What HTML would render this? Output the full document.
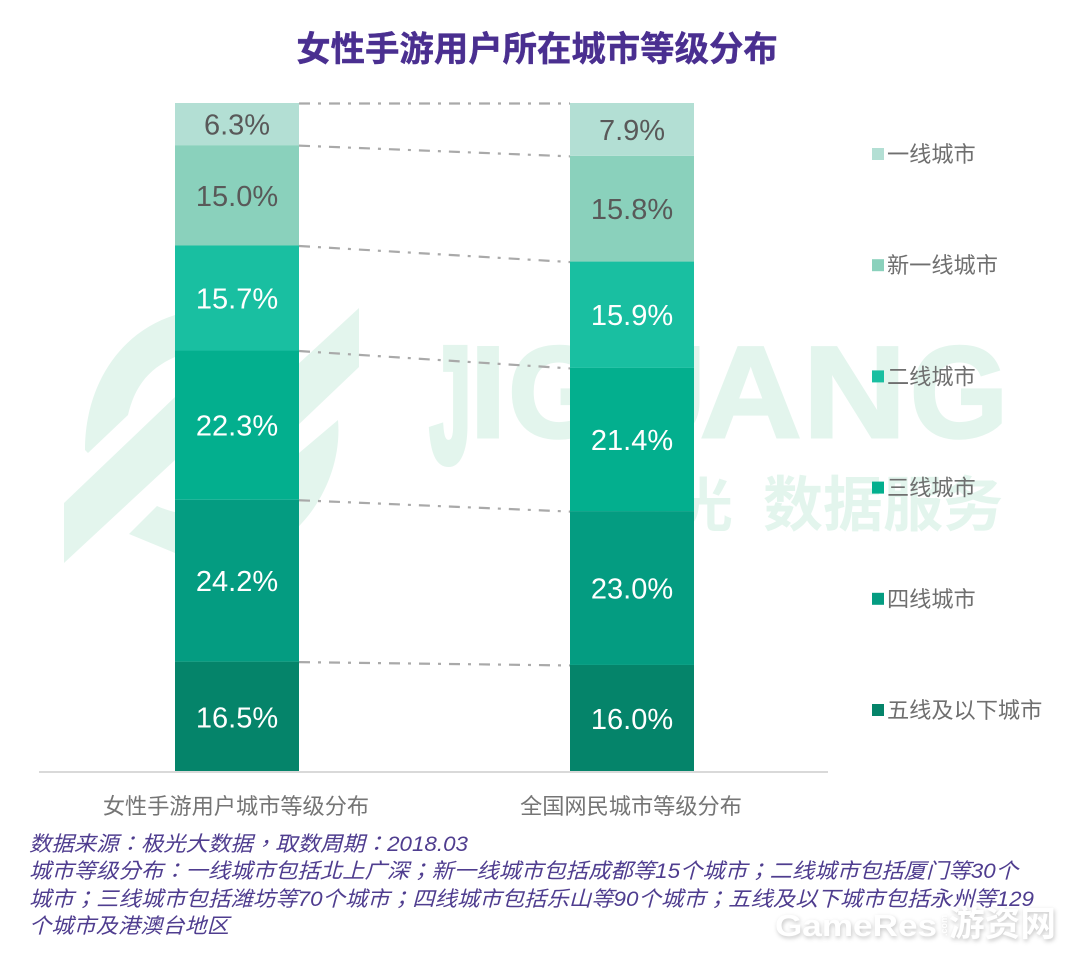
<!DOCTYPE html>
<html lang="zh">
<head>
<meta charset="utf-8">
<title>女性手游用户所在城市等级分布</title>
<style>
html,body{margin:0;padding:0;background:#fff;}
body{width:1080px;height:958px;overflow:hidden;}
svg{display:block;}
text{font-family:"Liberation Sans","Noto Sans CJK SC",sans-serif;}
.footnote-text{font-family:"Liberation Sans","Noto Sans CJK TC",sans-serif;}
</style>
</head>
<body>
<svg id="chart" xmlns="http://www.w3.org/2000/svg" width="1080" height="958" viewBox="0 0 1080 958">
  <rect x="0" y="0" width="1080" height="958" fill="#ffffff"/>
  <g fill="#e3f5ed">
    <path d="M175 315 C120 332 85 385 85 450 L88 453 L128 415 C135 385 150 368 175 357 Z"/>
    <polygon points="64,503 175,397 175,460 64,563"/>
    <polygon points="295,367 359,308 359,367 295,428"/>
    <path d="M338 420 C345 500 270 590 175 553 L129 534 L157 506 C210 530 270 500 299 453 Z"/>
    <g font-weight="700" font-size="130" stroke="#e3f5ed" stroke-width="3" stroke-linejoin="miter">
      <text x="0" y="0" stroke-width="7" transform="translate(430 461) scale(0.56 1.25)">J</text>
      <text x="0" y="0" transform="translate(470 437)">I</text>
      <text x="0" y="0" transform="translate(508 437)">G</text>
      <text x="0" y="0" transform="translate(612 437)">U</text>
      <text x="0" y="0" transform="translate(700 437) scale(1.08 1)">A</text>
      <text x="0" y="0" transform="translate(803 437) scale(1.1 1)">N</text>
      <text x="0" y="0" transform="translate(910 437) scale(0.97 1)">G</text>
    </g>
    <text x="615" y="526" font-size="58" font-weight="700" textLength="118" lengthAdjust="spacingAndGlyphs">极光</text>
    <text x="763" y="526" font-size="60" font-weight="700" textLength="240" lengthAdjust="spacingAndGlyphs">数据服务</text>
  </g>
  <text x="537" y="61" font-size="34.4" font-weight="700" fill="#4a2f90" stroke="#4a2f90" stroke-width="0.4" text-anchor="middle">女性手游用户所在城市等级分布</text>
  <g id="connectors"></g>
  <g id="bars"></g>
  <line x1="39" y1="772" x2="828" y2="772" stroke="#d9d9d9" stroke-width="2"/>
  <g id="xlabels"></g>
  <g id="legend"></g>
  <g lang="zh-TW" fill="#4f3d8f" font-style="italic" font-size="21">
    <text class="footnote-text" lang="zh-TW" x="29" y="851" textLength="439" lengthAdjust="spacingAndGlyphs">数据来源：极光大数据，取数周期：2018.03</text>
    <text class="footnote-text" lang="zh-TW" x="29" y="878" textLength="989" lengthAdjust="spacingAndGlyphs">城市等级分布：一线城市包括北上广深；新一线城市包括成都等15个城市；二线城市包括厦门等30个</text>
    <text class="footnote-text" lang="zh-TW" x="29" y="906" textLength="1005" lengthAdjust="spacingAndGlyphs">城市；三线城市包括潍坊等70个城市；四线城市包括乐山等90个城市；五线及以下城市包括永州等129</text>
    <text class="footnote-text" lang="zh-TW" x="29" y="933" textLength="200" lengthAdjust="spacingAndGlyphs">个城市及港澳台地区</text>
  </g>
  <g fill="#ffffff" font-weight="700" style="filter:drop-shadow(1px 2px 2px rgba(0,0,0,0.22));">
    <text x="775" y="936" font-size="31" textLength="162" lengthAdjust="spacingAndGlyphs">GameRes</text>
    <text x="0" y="0" font-size="9" transform="translate(947 936) rotate(-90)">.com</text>
    <text x="949" y="936" font-size="35" textLength="107" lengthAdjust="spacingAndGlyphs">游资网</text>
  </g>
</svg>
<script>
const categories = ["女性手游用户城市等级分布", "全国网民城市等级分布"];
const tiers = ["五线及以下城市", "四线城市", "三线城市", "二线城市", "新一线城市", "一线城市"];
const femaleGamerShare = [16.5, 24.2, 22.3, 15.7, 15.0, 6.3];
const nationalShare = [16.0, 23.0, 21.4, 15.9, 15.8, 7.9];
const seriesByCategory = [femaleGamerShare, nationalShare];

const tierColors = ["#05846a", "#049c81", "#03af8e", "#19bfa1", "#8ad1bc", "#b3dfd4"];
const labelColors = ["#ffffff", "#ffffff", "#ffffff", "#ffffff", "#595959", "#595959"];

const NS = "http://www.w3.org/2000/svg";
const plotBottom = 772;
const plotTop = 103;
const barWidth = 124;
function yScale(pct) { return plotBottom - pct * (plotBottom - plotTop) / 100; }
function xScale(index) { return 237 + index * 395; }
function make(tag, parent) {
  const el = document.createElementNS(NS, tag);
  parent.appendChild(el);
  return el;
}

const barsGroup = document.getElementById("bars");
const connectorsGroup = document.getElementById("connectors");
const xLabelsGroup = document.getElementById("xlabels");
const legendGroup = document.getElementById("legend");

const cumulative = seriesByCategory.map(function (values) {
  let sum = 0;
  return values.map(function (v) { sum += v; return sum; });
});

seriesByCategory.forEach(function (values, c) {
  const cx = xScale(c);
  values.forEach(function (v, t) {
    const top = yScale(cumulative[c][t]);
    const bottom = yScale(cumulative[c][t] - v);
    const rect = make("rect", barsGroup);
    
    
    rect.setAttribute("x", cx - barWidth / 2);
    rect.setAttribute("y", top);
    rect.setAttribute("width", barWidth);
    rect.setAttribute("height", bottom - top);
    rect.setAttribute("fill", tierColors[t]);
    const label = make("text", barsGroup);
    
    
    label.setAttribute("x", cx);
    label.setAttribute("y", (top + bottom) / 2 + 10.5);
    label.setAttribute("font-size", "29");
    label.setAttribute("text-anchor", "middle");
    label.setAttribute("fill", labelColors[t]);
    label.textContent = v.toFixed(1) + "%";
  });
  const xLabel = make("text", xLabelsGroup);
  
  
  xLabel.setAttribute("x", cx - 1);
  xLabel.setAttribute("y", 814);
  xLabel.setAttribute("font-size", "22.2");
  xLabel.setAttribute("text-anchor", "middle");
  xLabel.setAttribute("fill", "#757575");
  xLabel.textContent = categories[c];
});

tiers.forEach(function (name, t) {
  const line = make("line", connectorsGroup);
  
  
  line.setAttribute("x1", xScale(0) + barWidth / 2);
  line.setAttribute("y1", yScale(cumulative[0][t]) + 0.5);
  line.setAttribute("x2", xScale(1) - barWidth / 2);
  line.setAttribute("y2", yScale(cumulative[1][t]) + 0.5);
  line.setAttribute("stroke", "#a9a9a9");
  line.setAttribute("stroke-width", "2.2");
  line.setAttribute("stroke-dasharray", "11 8 3 8");

  const row = tiers.length - 1 - t;
  const ly = 154 + row * 111.2;
  const swatch = make("rect", legendGroup);
  
  
  swatch.setAttribute("x", 872);
  swatch.setAttribute("y", ly - 6);
  swatch.setAttribute("width", 12);
  swatch.setAttribute("height", 12);
  swatch.setAttribute("fill", tierColors[t]);
  const text = make("text", legendGroup);
  
  
  text.setAttribute("x", 887);
  text.setAttribute("y", ly + 8);
  text.setAttribute("font-size", "22.2");
  text.setAttribute("fill", "#6f6f6f");
  text.textContent = name;
});
</script>
</body>
</html>
